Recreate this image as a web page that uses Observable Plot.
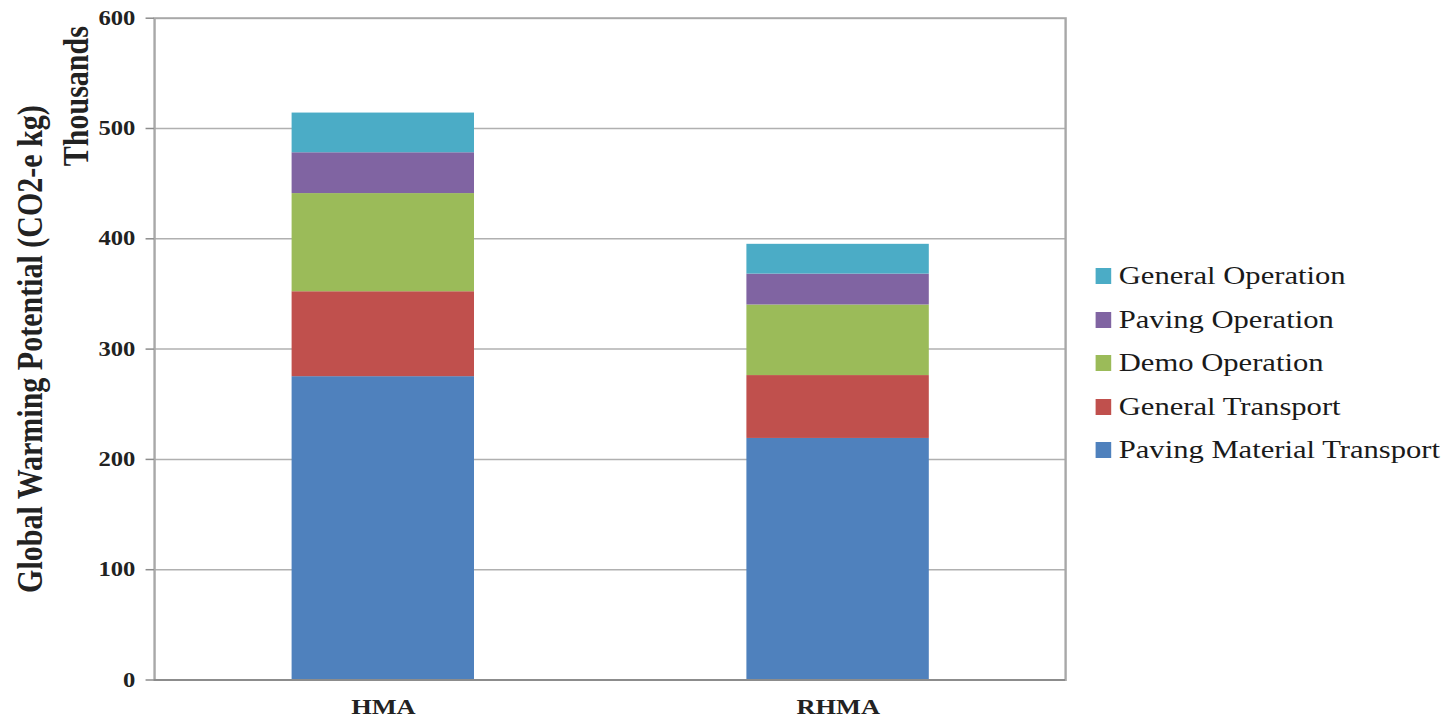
<!DOCTYPE html>
<html>
<head>
<meta charset="utf-8">
<script src="https://cdn.jsdelivr.net/npm/d3@7"></script>
<script src="https://cdn.jsdelivr.net/npm/@observablehq/plot@0.6"></script>
<style>
  html, body { margin: 0; padding: 0; background: #fff; }
  #wrap { position: relative; width: 1206px; height: 721px; transform: scaleX(1.2); transform-origin: 0 0; }
  #wrap svg { position: absolute; left: 0; top: 0; }
  .lg-row { position: absolute; left: 913px; height: 30px; display: flex; align-items: center; white-space: nowrap; }
  .lg-sw { width: 13.3px; height: 16px; margin-right: 6px; }
  .lg-tx { font-family: "Liberation Serif", "Times New Roman", serif; font-size: 25.5px; line-height: 30px; color: #1a1a1a; }
</style>
</head>
<body>
<div id="wrap"></div>
<script>
// ---- data ----
const categories = ["HMA", "RHMA"];
const series = ["Paving Material Transport", "General Transport", "Demo Operation", "Paving Operation", "General Operation"];
const seriesColors = ["#4F81BD", "#C0504D", "#9BBB59", "#8064A2", "#4BACC6"];
const hmaValues = [275, 77, 89, 37, 36];
const rhmaValues = [219, 57, 64, 28, 27];
const yTicks = [0, 100, 200, 300, 400, 500, 600];
const yTitle = "Global Warming Potential (CO2-e kg)";
const yUnit = "Thousands";

const valuesByCategory = [hmaValues, rhmaValues];
const rows = [];
categories.forEach((c, ci) => {
  series.forEach((s, si) => rows.push({category: c, series: s, value: valuesByCategory[ci][si]}));
});

const serif = "'Liberation Serif', 'Times New Roman', serif";

const chart = Plot.plot({
  width: 1206,
  height: 721,
  marginLeft: 128.3,
  marginRight: 318.5,
  marginTop: 17.7,
  marginBottom: 41.5,
  style: {background: "#fff", fontFamily: serif, color: "#222"},
  x: {domain: categories, paddingInner: 0.6, paddingOuter: 0.3, label: null},
  y: {domain: [0, 600], label: null},
  color: {domain: series, range: seriesColors},
  marks: [
    Plot.ruleY(yTicks.filter(d => d > 0 && d < 600), {stroke: "#b0b0b0", strokeWidth: 1.5}),
    Plot.barY(rows, {x: "category", y: "value", fill: "series", order: series}),
    Plot.frame({stroke: "#a8a8a8", strokeWidth: 2}),
    Plot.ruleY([0], {stroke: "#8c8c8c", strokeWidth: 2}),
    Plot.axisY(yTicks, {
      tickSize: 7, tickPadding: 9, stroke: "#8c8c8c", strokeWidth: 1.5,
      fontSize: 20.5, fontWeight: "bold", fontFamily: serif, fill: "#222",
      tickFormat: d => String(d), label: null
    }),
    Plot.axisX({
      tickSize: 0, tickPadding: 18, fontSize: 22, fontWeight: "bold", fontFamily: serif, fill: "#222", label: null
    }),
    Plot.text([yTitle], {
      frameAnchor: "left", dx: -103, rotate: -90, text: d => d,
      fontSize: 30, fontWeight: "bold", fontFamily: serif, fill: "#222",
      textAnchor: "middle", lineAnchor: "middle"
    }),
    Plot.text([yUnit], {
      frameAnchor: "top-left", dx: -65, dy: 78, rotate: -90, text: d => d,
      fontSize: 30, fontWeight: "bold", fontFamily: serif, fill: "#222",
      textAnchor: "middle", lineAnchor: "middle"
    })
  ]
});

const wrap = document.getElementById("wrap");
wrap.appendChild(chart);

// legend (top to bottom: reverse of stack order)
const legendOrder = series.slice().reverse();
legendOrder.forEach((s, i) => {
  const row = document.createElement("div");
  row.className = "lg-row";
  row.style.top = (261 + i * 43.5) + "px";
  const sw = document.createElement("div");
  sw.className = "lg-sw";
  sw.style.background = seriesColors[series.indexOf(s)];
  const tx = document.createElement("span");
  tx.className = "lg-tx";
  tx.textContent = s;
  row.appendChild(sw);
  row.appendChild(tx);
  wrap.appendChild(row);
});
</script>
</body>
</html>
